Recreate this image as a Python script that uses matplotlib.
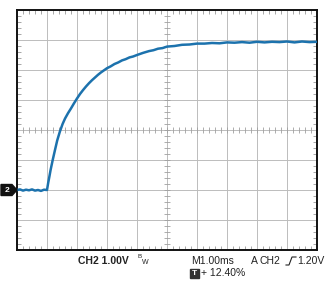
import numpy as np
import matplotlib
matplotlib.use("Agg")
from matplotlib import pyplot as plt
from matplotlib.patches import Polygon, Rectangle
from matplotlib.lines import Line2D

# time in divisions (1 div = 1.00 ms), CH2 level in divisions from screen centre
t = [0.0, 0.1, 0.2, 0.3, 0.4, 0.5, 0.6, 0.7, 0.8, 0.9, 1.0,
     1.04, 1.08, 1.12, 1.19, 1.27, 1.34, 1.43, 1.52, 1.6, 1.7, 1.8,
     1.9, 2.0, 2.1, 2.2, 2.3, 2.4, 2.5, 2.6, 2.7, 2.8, 2.9, 3.0,
     3.12, 3.25, 3.37, 3.5, 3.62, 3.75, 3.87, 4.0, 4.2, 4.4, 4.55,
     4.7, 4.85, 5.0, 5.25, 5.5, 5.75, 6.0, 6.25, 6.5, 6.75, 7.0,
     7.25, 7.5, 7.75, 8.0, 8.25, 8.5, 8.75, 9.0, 9.25, 9.5, 9.75, 10.0]
v = [-2.0, -1.98, -2.02, -1.99, -2.01, -1.98, -2.02, -2.0, -2.03, -1.99, -2.0,
     -1.76, -1.55, -1.33, -1.0, -0.65, -0.35, -0.05, 0.2, 0.38, 0.56, 0.72,
     0.89, 1.05, 1.2, 1.33, 1.45, 1.56, 1.66, 1.75, 1.84, 1.92, 1.99, 2.06,
     2.12, 2.2, 2.25, 2.32, 2.36, 2.42, 2.45, 2.5, 2.57, 2.63, 2.66,
     2.71, 2.73, 2.78, 2.8, 2.84, 2.85, 2.88, 2.88, 2.9, 2.89, 2.92,
     2.91, 2.93, 2.91, 2.94, 2.92, 2.94, 2.93, 2.95, 2.92, 2.95, 2.93, 2.94]

W, H = 328, 283
fig = plt.figure(figsize=(W / 100, H / 100), dpi=100)
fig.patch.set_facecolor('white')


def fx(x):
    return x / W


def fy(y):
    return 1 - y / H


ax = fig.add_axes([fx(17), fy(250), 300 / W, 240 / H])
ax.set_xlim(0, 10)
ax.set_ylim(-4, 4)

grid_c = '#bcbcbc'
for gx in range(1, 10):
    ax.axvline(gx, color=grid_c, lw=0.7, zorder=1)
for gy in range(-3, 4):
    ax.axhline(gy, color=grid_c, lw=0.7, zorder=1)

# small ticks on the centre lines
mx = np.arange(0, 10.01, 0.2)
my = np.arange(-4, 4.01, 0.2)
ax.plot(mx, np.zeros_like(mx), '|', color='#a0a0a0', ms=4, mew=0.6, zorder=1)
ax.plot(np.full_like(my, 5), my, '_', color='#a0a0a0', ms=4, mew=0.6, zorder=1)

ax.plot(t, v, color='#1c72ad', lw=1.8, zorder=3, solid_joinstyle='round')

ax.set_xticks(range(11))
ax.set_yticks(range(-4, 5))
ax.set_xticks(mx, minor=True)
ax.set_yticks(my, minor=True)
ax.tick_params(which='both', direction='in', top=True, right=True,
               labelbottom=False, labelleft=False, color='#999999')
ax.tick_params(which='major', length=0)
ax.tick_params(which='minor', length=3, width=0.6)
for s in ax.spines.values():
    s.set_linewidth(1.4)
    s.set_color('#111111')

# channel 2 ground marker
mk = Polygon([(fx(1), fy(184.5)), (fx(12), fy(184.5)), (fx(17), fy(190)),
              (fx(12), fy(195.5)), (fx(1), fy(195.5))],
             closed=True, transform=fig.transFigure, color='#111111')
fig.patches.append(mk)
fig.text(fx(7), fy(190), '2', color='white', fontsize=6, fontweight='bold',
         ha='center', va='center', family='Liberation Sans')

tc = '#222222'
fam = 'Liberation Sans'
fig.text(fx(78), fy(261), 'CH2 1.00V', fontsize=7.5, fontweight='bold',
         color=tc, va='center', family=fam)
fig.text(fx(138), fy(257), 'B', fontsize=4.5, color=tc, va='center', family=fam)
fig.text(fx(142), fy(263), 'W', fontsize=5, color=tc, va='center', family=fam)
fig.text(fx(191), fy(261), 'M1.00ms', fontsize=7.5, color=tc, va='center',
         family=fam)
fig.text(fx(251), fy(261), 'A', fontsize=7.5, color=tc, va='center',
         family=fam)
fig.text(fx(260), fy(261), 'CH2', fontsize=7.5, color=tc, va='center',
         family=fam)
fig.text(fx(297), fy(261), '1.20V', fontsize=7.5, color=tc, va='center',
         family=fam)
# rising-edge trigger symbol
fig.lines.append(Line2D([fx(286), fx(289), fx(292), fx(296)],
                        [fy(265), fy(265), fy(257), fy(257)],
                        transform=fig.transFigure, color=tc, lw=0.8))

fig.patches.append(Rectangle((fx(190), fy(278)), 9 / W, 9 / H,
                             transform=fig.transFigure, color='#333333'))
fig.text(fx(194.5), fy(273.5), 'T', fontsize=6, color='white',
         fontweight='bold', ha='center', va='center', family=fam)
fig.text(fx(201), fy(273.5), '+ 12.40%', fontsize=7.5, color=tc,
         va='center', family=fam)

fig.savefig('out.png', dpi=100)
